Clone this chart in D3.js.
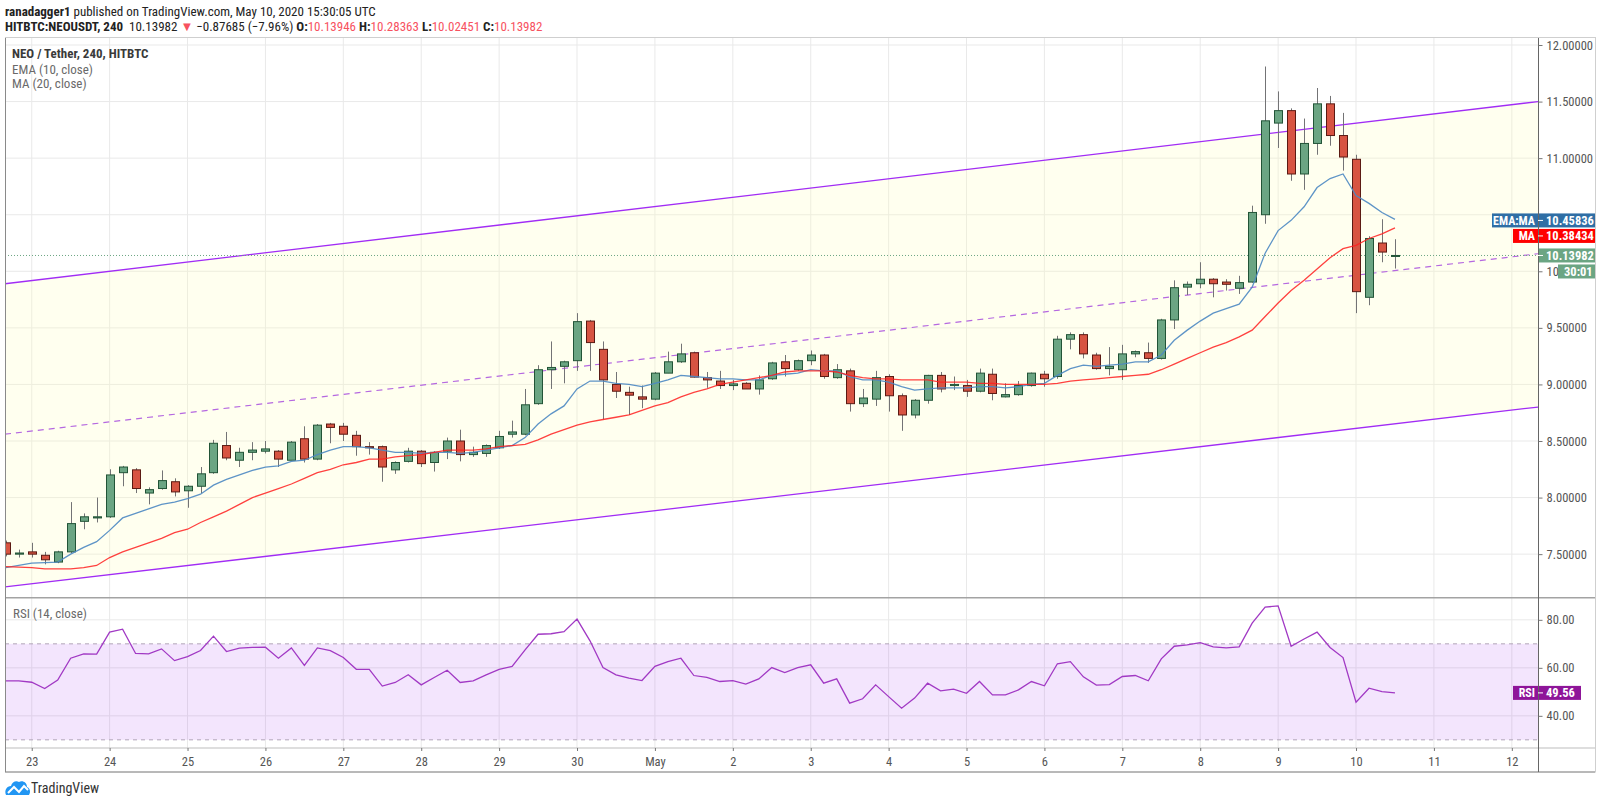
<!DOCTYPE html>
<html>
<head>
<meta charset="utf-8">
<script src="https://cdn.jsdelivr.net/npm/d3@7"></script>
<style>
html, body { margin: 0; padding: 0; background: #fff; }
svg { display: block; }
text { font-family: 'Liberation Sans Narrow', 'Roboto Condensed', Roboto, sans-serif; }
</style>
</head>
<body>
<svg id="chart"></svg>
<script>
// ---- data (4h candles, HITBTC NEO/USDT) ----
const candleTimes = d3.utcHour.every(4).range(new Date("2020-04-22T16:00Z"), new Date("2020-05-10T16:00Z"));

const openP = [7.60,7.50,7.52,7.49,7.43,7.52,7.79,7.82,7.83,8.22, 8.245,8.04,8.08,8.14,8.06,8.10,8.22,8.46,8.33,8.40,
  8.41,8.41,8.33,8.52,8.34,8.65,8.63,8.55,8.45,8.45, 8.245,8.32,8.41,8.31,8.41,8.50,8.38,8.39,8.44,8.56,
  8.56,8.83,9.13,9.16,9.21,9.56,9.31,9.00,8.93,8.89, 8.87,9.10,9.20,9.28,9.06,9.03,8.99,9.01,8.96,9.05,
  9.20,9.13,9.21,9.26,9.06,9.12,8.83,8.87,9.07,8.90, 8.73,8.86,9.08,8.99,8.99,8.94,9.09,8.89,8.91,8.99,
  9.09,9.07,9.40,9.44,9.26,9.14,9.13,9.27,9.28,9.23, 9.57,9.86,9.89,9.93,9.905,9.85,9.905,10.50,11.31,11.42,
  10.86,11.13,11.48,11.20,10.99,9.77,10.25,10.13946];
const highP = [7.62,7.54,7.60,7.52,7.53,7.96,7.86,8.00,8.25,8.28, 8.26,8.09,8.24,8.17,8.11,8.27,8.51,8.58,8.44,8.49,
  8.50,8.42,8.50,8.63,8.65,8.66,8.66,8.59,8.49,8.46, 8.32,8.44,8.42,8.41,8.53,8.60,8.45,8.47,8.59,8.68,
  8.96,9.17,9.38,9.21,9.63,9.57,9.38,9.11,8.98,8.99, 9.11,9.29,9.36,9.29,9.11,9.12,9.04,9.02,9.08,9.20,
  9.26,9.22,9.30,9.27,9.18,9.14,8.96,9.12,9.09,8.92, 8.87,9.085,9.11,9.07,9.04,9.14,9.14,9.01,9.03,9.105,
  9.12,9.43,9.46,9.46,9.28,9.33,9.35,9.30,9.37,9.58, 9.92,9.91,10.08,9.94,9.93,9.96,10.58,11.81,11.59,11.44,
  11.35,11.62,11.55,11.40,11.03,10.31,10.46,10.28363];
const lowP = [7.48,7.47,7.47,7.41,7.42,7.51,7.72,7.78,7.82,8.10, 8.04,7.94,8.07,8.01,7.91,8.04,8.21,8.33,8.27,8.33,
  8.39,8.27,8.33,8.31,8.33,8.48,8.50,8.37,8.38,8.14, 8.21,8.31,8.27,8.23,8.34,8.32,8.36,8.36,8.43,8.53,
  8.55,8.82,8.96,9.01,9.12,9.12,8.69,8.88,8.73,8.79, 8.86,9.10,9.19,9.06,8.97,8.96,8.95,8.96,8.91,9.04,
  9.07,9.12,9.17,9.05,9.05,8.76,8.80,8.81,8.76,8.59, 8.70,8.83,8.93,8.95,8.89,8.93,8.86,8.885,8.90,8.98,
  8.98,9.05,9.31,9.23,9.13,9.08,9.04,9.24,9.19,9.22, 9.49,9.79,9.85,9.77,9.83,9.80,9.90,10.42,11.09,10.80,
  10.72,11.03,11.11,10.89,9.63,9.70,10.08,10.02451];
const closeP = [7.50,7.51,7.50,7.45,7.52,7.77,7.83,7.83,8.20,8.27, 8.08,8.07,8.15,8.05,8.10,8.21,8.48,8.35,8.40,8.42,
  8.43,8.34,8.49,8.34,8.64,8.62,8.56,8.45,8.44,8.27, 8.31,8.41,8.30,8.40,8.50,8.38,8.40,8.46,8.54,8.58,
  8.82,9.13,9.15,9.20,9.555,9.37,9.04,8.94,8.905,8.87, 9.10,9.20,9.27,9.065,9.04,8.99,9.005,8.96,9.04,9.19,
  9.14,9.21,9.26,9.07,9.13,8.83,8.88,9.06,8.90,8.73, 8.86,9.08,8.96,9.00,8.94,9.10,8.92,8.91,8.99,9.10,
  9.05,9.40,9.44,9.27,9.14,9.16,9.27,9.29,9.23,9.57, 9.855,9.885,9.93,9.89,9.885,9.90,10.52,11.33,11.42,10.86,
  11.13,11.48,11.20,11.01,9.82,10.29,10.17,10.13982];

const ema10 = [7.38,7.40,7.42,7.425,7.43,7.50,7.56,7.61,7.71,7.82, 7.86,7.90,7.94,7.96,7.99,8.03,8.11,8.16,8.20,8.24,
  8.27,8.28,8.32,8.33,8.38,8.42,8.45,8.45,8.44,8.42, 8.40,8.40,8.39,8.40,8.40,8.39,8.40,8.42,8.44,8.46,
  8.53,8.65,8.74,8.81,8.96,9.03,9.03,9.01,9.00,8.98, 9.01,9.04,9.08,9.07,9.06,9.05,9.05,9.04,9.04,9.08,
  9.09,9.10,9.13,9.12,9.12,9.07,9.04,9.04,9.02,8.98, 8.95,8.96,8.97,8.97,8.97,8.98,8.98,8.97,8.98,9.00,
  9.01,9.08,9.14,9.17,9.16,9.17,9.18,9.20,9.20,9.26, 9.39,9.48,9.56,9.63,9.67,9.71,9.86,10.16,10.36,10.45,
  10.57,10.74,10.82,10.86,10.67,10.60,10.52,10.45836];
const ma20 = [7.39,7.385,7.38,7.37,7.37,7.37,7.38,7.40,7.47,7.52, 7.56,7.60,7.64,7.69,7.72,7.78,7.83,7.88,7.94,8.00,
  8.04,8.08,8.12,8.17,8.22,8.25,8.29,8.31,8.34,8.34, 8.36,8.37,8.38,8.40,8.42,8.42,8.42,8.43,8.45,8.46,
  8.47,8.51,8.56,8.60,8.64,8.67,8.69,8.71,8.73,8.77, 8.81,8.84,8.89,8.93,8.96,9.00,9.02,9.04,9.06,9.08,
  9.11,9.12,9.12,9.12,9.11,9.08,9.06,9.05,9.05,9.04, 9.04,9.04,9.02,9.02,9.02,9.01,9.01,9.00,9.00,9.00,
  9.00,9.01,9.03,9.04,9.05,9.06,9.07,9.08,9.09,9.13, 9.18,9.23,9.28,9.33,9.37,9.42,9.48,9.60,9.72,9.83,
  9.92,10.02,10.12,10.20,10.23,10.29,10.33,10.38434];
const rsi14 = [54.6,54.6,54.0,51.4,54.9,64.0,65.8,65.7,74.9,76.1, 66.0,65.8,67.9,63.0,64.7,67.2,73.2,66.8,68.2,68.5,
  68.6,64.0,68.3,61.0,68.3,67.2,64.3,59.4,59.4,52.4, 53.9,57.1,52.9,56.0,59.0,53.9,54.6,57.1,59.4,60.6,
  67.5,74.0,74.2,75.1,80.3,71.25,60.1,57.1,55.7,54.7, 60.6,62.6,64.0,56.8,56.0,54.3,54.7,53.2,55.4,60.1,
  58.0,60.1,61.25,53.6,55.4,45.3,47.1,52.9,48.0,43.2, 47.4,53.6,50.4,51.1,49.4,54.3,48.75,48.75,50.8,54.3,
  52.5,61.7,62.6,56.25,52.8,53.0,56.4,56.8,54.6,63.75, 69.0,69.6,70.5,68.75,68.3,68.75,78.6,85.3,85.8,69.0,
  72.0,74.9,68.5,64.3,45.7,51.5,50.1,49.56];

// drawn channel (two anchor points each)
const channelTimes = [new Date("2020-04-22T15:46Z"), new Date("2020-05-12T08:04Z")];
const channelUpper = [9.89, 11.50];
const channelMid = [8.56, 10.155];
const channelLower = [7.21, 8.80];

const priceTicks = [7.5, 8.0, 8.5, 9.0, 9.5, 10.0, 10.5, 11.0, 11.5, 12.0];
const rsiTicks = [40, 60, 80];
const rsiBand = [30, 70];
const dayTicks = d3.utcDay.range(new Date("2020-04-23T00:00Z"), new Date("2020-05-13T00:00Z"));

// ---- layout ----
const width = 1600, height = 805;
const left = 5, right = 1538, frameRight = 1595;
const mainTop = 38, mainBottom = 597.7;
const rsiTop = 598, rsiBottom = 748, frameBottom = 772;

const up = "#6ba583", upBorder = "#225437", down = "#d75442", downBorder = "#5b1a13", wickColor = "#737375";

const svg = d3.select("#chart").attr("width", width).attr("height", height);
svg.append("rect").attr("width", width).attr("height", height).attr("fill", "#fff");

const x = d3.scaleUtc().domain(channelTimes).range([left, right]);
const y = d3.scaleLinear().domain([7.115, 12.062]).range([mainBottom, mainTop]);
const yR = d3.scaleLinear().domain([26.6, 89.1]).range([rsiBottom, rsiTop]);

const defs = svg.append("defs");
defs.append("clipPath").attr("id", "clipMain").append("rect")
  .attr("x", left).attr("y", mainTop).attr("width", right - left).attr("height", mainBottom - mainTop);
defs.append("clipPath").attr("id", "clipRsi").append("rect")
  .attr("x", left).attr("y", rsiTop).attr("width", right - left).attr("height", rsiBottom - rsiTop);

// grid
const grid = svg.append("g").attr("stroke", "#e9e9e9").attr("stroke-width", 1);
grid.selectAll(".hg").data(priceTicks).join("line")
  .attr("x1", left).attr("x2", right).attr("y1", d => y(d)).attr("y2", d => y(d));
grid.selectAll(".rg").data(rsiTicks).join("line")
  .attr("x1", left).attr("x2", right).attr("y1", d => yR(d)).attr("y2", d => yR(d));
grid.selectAll(".vg").data(dayTicks).join("line")
  .attr("x1", d => x(d)).attr("x2", d => x(d)).attr("y1", mainTop).attr("y2", rsiBottom);

// channel
const main = svg.append("g").attr("clip-path", "url(#clipMain)");
const chan = channelTimes.map((t, i) => ({ t, u: channelUpper[i], m: channelMid[i], l: channelLower[i] }));
main.append("path").datum(chan)
  .attr("fill", "rgba(255,255,190,0.24)")
  .attr("d", d3.area().x(d => x(d.t)).y0(d => y(d.l)).y1(d => y(d.u)));
main.append("path").datum(chan).attr("fill", "none").attr("stroke", "#a12cf5").attr("stroke-width", 1.3)
  .attr("d", d3.line().x(d => x(d.t)).y(d => y(d.u)));
main.append("path").datum(chan).attr("fill", "none").attr("stroke", "#a12cf5").attr("stroke-width", 1.3)
  .attr("d", d3.line().x(d => x(d.t)).y(d => y(d.l)));
main.append("path").datum(chan).attr("fill", "none").attr("stroke", "#b568e0").attr("stroke-width", 1.2)
  .attr("stroke-dasharray", "6,5")
  .attr("d", d3.line().x(d => x(d.t)).y(d => y(d.m)));

// last price dotted line
const lastClose = closeP[closeP.length - 1];
main.append("line").attr("x1", left).attr("x2", right)
  .attr("y1", y(lastClose)).attr("y2", y(lastClose))
  .attr("stroke", up).attr("stroke-dasharray", "1,2");

// candles
const candles = candleTimes.map((t, i) => ({ t, o: openP[i], h: highP[i], l: lowP[i], c: closeP[i] }));
const cg = main.append("g");
cg.selectAll(".wick").data(candles).join("line")
  .attr("x1", d => Math.round(x(d.t)) + 0.5).attr("x2", d => Math.round(x(d.t)) + 0.5)
  .attr("y1", d => y(d.h)).attr("y2", d => y(d.l))
  .attr("stroke", wickColor).attr("stroke-width", 1);
cg.selectAll(".body").data(candles).join("rect")
  .attr("x", d => Math.round(x(d.t)) - 3.5)
  .attr("width", 8)
  .attr("y", d => y(Math.max(d.o, d.c)))
  .attr("height", d => Math.max(1, y(Math.min(d.o, d.c)) - y(Math.max(d.o, d.c))))
  .attr("fill", d => d.c >= d.o ? up : down)
  .attr("stroke", d => d.c >= d.o ? upBorder : downBorder)
  .attr("stroke-width", 1);

// EMA / MA
main.append("path").datum(ema10).attr("fill", "none").attr("stroke", "#4d88c2").attr("stroke-width", 1.3)
  .attr("stroke-opacity", 0.9)
  .attr("d", d3.line().x((d, i) => x(candleTimes[i])).y(d => y(d)));
main.append("path").datum(ma20).attr("fill", "none").attr("stroke", "#ff2020").attr("stroke-width", 1.3)
  .attr("stroke-opacity", 0.85)
  .attr("d", d3.line().x((d, i) => x(candleTimes[i])).y(d => y(d)));

// RSI pane
const rp = svg.append("g").attr("clip-path", "url(#clipRsi)");
rp.append("rect").attr("x", left).attr("width", right - left)
  .attr("y", yR(rsiBand[1])).attr("height", yR(rsiBand[0]) - yR(rsiBand[1]))
  .attr("fill", "rgba(155,40,240,0.12)");
rp.selectAll(".band").data(rsiBand).join("line")
  .attr("x1", left).attr("x2", right).attr("y1", d => yR(d)).attr("y2", d => yR(d))
  .attr("stroke", "#b0a4b8").attr("stroke-dasharray", "4,4");
rp.append("path").datum(rsi14).attr("fill", "none").attr("stroke", "#a139c4").attr("stroke-width", 1.3)
  .attr("d", d3.line().x((d, i) => x(candleTimes[i])).y(d => yR(d)));

// frame & separators
const frame = svg.append("g").attr("fill", "none");
frame.append("rect").attr("x", left + 0.5).attr("y", mainTop - 0.5)
  .attr("width", frameRight - left).attr("height", frameBottom - mainTop + 0.5)
  .attr("stroke", "#cfcfcf");
frame.append("line").attr("x1", left).attr("x2", frameRight).attr("y1", mainBottom).attr("y2", mainBottom)
  .attr("stroke", "#a3a3a3").attr("stroke-width", 1.6);
frame.append("line").attr("x1", left).attr("x2", frameRight).attr("y1", rsiBottom).attr("y2", rsiBottom)
  .attr("stroke", "#bdbdbd");
frame.append("line").attr("x1", left).attr("x2", frameRight).attr("y1", frameBottom).attr("y2", frameBottom)
  .attr("stroke", "#8a8a8a");
frame.append("line").attr("x1", left + 0.5).attr("x2", left + 0.5).attr("y1", mainTop).attr("y2", frameBottom)
  .attr("stroke", "#8a8a8a");
frame.append("line").attr("x1", right + 0.5).attr("x2", right + 0.5).attr("y1", mainTop).attr("y2", frameBottom)
  .attr("stroke", "#666");

// axes (labels hidden behind the value tags show only what peeks out)
const lastEma = ema10[ema10.length - 1];
const priceFmt = d3.format(".5f");
const priceAxis = svg.append("g").attr("transform", `translate(${right + 0.5},0)`)
  .call(d3.axisRight(y).tickValues(priceTicks)
    .tickFormat(d => d === 10.5 ? "" : d === 10 ? "10." : priceFmt(d))
    .tickSize(4).tickPadding(4));
const rsiAxis = svg.append("g").attr("transform", `translate(${right + 0.5},0)`)
  .call(d3.axisRight(yR).tickValues(rsiTicks).tickFormat(d3.format(".2f")).tickSize(4).tickPadding(4));
const dateAxis = svg.append("g").attr("transform", `translate(0,${rsiBottom})`)
  .call(d3.axisBottom(x).tickValues(dayTicks)
    .tickFormat(d => d.getUTCDate() === 1 ? "May" : String(d.getUTCDate()))
    .tickSize(3).tickPadding(6));
[priceAxis, rsiAxis, dateAxis].forEach(a => {
  a.select(".domain").remove();
  a.selectAll(".tick line").attr("stroke", "#777");
  a.selectAll(".tick text").attr("fill", "#555").style("font-size", "12.5px");
});

// right-side value labels
function valueTag(label, value, cy, color, tagWidth, valueWidth) {
  const g = svg.append("g");
  if (label) {
    g.append("rect").attr("x", right - tagWidth).attr("y", cy - 7).attr("width", tagWidth).attr("height", 14).attr("fill", color);
    g.append("text").attr("x", right - 3).attr("y", cy).attr("dy", "0.35em").attr("text-anchor", "end")
      .attr("fill", "#fff").style("font-size", "12px").style("font-weight", "bold").text(label);
  }
  g.append("rect").attr("x", right + 1).attr("y", cy - 7).attr("width", valueWidth).attr("height", 14).attr("fill", color);
  g.append("line").attr("x1", right).attr("x2", right + 5).attr("y1", cy).attr("y2", cy).attr("stroke", "#fff");
  g.append("text").attr("x", right + 8).attr("y", cy).attr("dy", "0.35em")
    .attr("fill", "#fff").style("font-size", "12.5px").style("font-weight", "bold").text(value);
}
const emaY = y(lastEma);
valueTag("EMA:MA", priceFmt(lastEma), emaY + 1, "#2f6ea5", 46, 56);
valueTag("MA", priceFmt(ma20[ma20.length - 1]), emaY + 16.5, "#ff0000", 25, 56);
valueTag(null, priceFmt(lastClose), y(lastClose), up, 0, 56);
// countdown to candle close
svg.append("rect").attr("x", right + 20).attr("y", y(lastClose) + 9).attr("width", 37).attr("height", 14).attr("fill", up);
svg.append("text").attr("x", right + 26).attr("y", y(lastClose) + 16).attr("dy", "0.35em")
  .attr("fill", "#fff").style("font-size", "12.5px").style("font-weight", "bold").text("30:01");
valueTag("RSI", d3.format(".2f")(rsi14[rsi14.length - 1]), yR(rsi14[rsi14.length - 1]), "#8e1599", 25, 42);

// legends
const legend = svg.append("g").style("font-size", "13px");
legend.append("text").attr("x", 12).attr("y", 57.5).attr("fill", "#3a3a3a").style("font-weight", "bold")
  .text("NEO / Tether, 240, HITBTC");
legend.append("text").attr("x", 12).attr("y", 74).attr("fill", "#6a6a6a").text("EMA (10, close)");
legend.append("text").attr("x", 12).attr("y", 87.5).attr("fill", "#6a6a6a").text("MA (20, close)");
svg.append("text").attr("x", 13).attr("y", 617.5).attr("fill", "#6a6a6a").style("font-size", "13px")
  .text("RSI (14, close)");

// header
const red = "#f7525f";
const h1 = svg.append("text").attr("x", 5).attr("y", 16).attr("fill", "#222").style("font-size", "13px");
h1.append("tspan").style("font-weight", "bold").text("ranadagger1");
h1.append("tspan").text(" published on TradingView.com, May 10, 2020 15:30:05 UTC");
const h2 = svg.append("text").attr("x", 5).attr("y", 30.5).attr("fill", "#222").style("font-size", "13px");
h2.append("tspan").style("font-weight", "bold").text("HITBTC:NEOUSDT, 240");
h2.append("tspan").text("\u00a0 10.13982 ");
h2.append("tspan").attr("fill", red).text("\u25BC");
h2.append("tspan").text(" \u22120.87685 (\u22127.96%) ");
[["O:", openP], ["H:", highP], ["L:", lowP], ["C:", closeP]].forEach(([k, arr]) => {
  h2.append("tspan").style("font-weight", "bold").text(k);
  h2.append("tspan").attr("fill", red).text(priceFmt(arr[arr.length - 1]) + " ");
});

// footer logo
const logo = svg.append("g").attr("transform", "translate(5,780)");
logo.append("path").attr("fill", "#2196f3")
  .attr("d", "M1,15 C-1,10 2,6 6,6 C7,2 11,0 14,2 C17,0 22,2 22,7 C25,8 26,12 24,15 Z");
logo.append("path").attr("fill", "none").attr("stroke", "#fff").attr("stroke-width", 2)
  .attr("d", "M3,13 L9,7 L14,12 L19,6 L23,10");
svg.append("text").attr("x", 31).attr("y", 793).attr("fill", "#333").style("font-size", "14px").text("TradingView");
</script>
</body>
</html>
